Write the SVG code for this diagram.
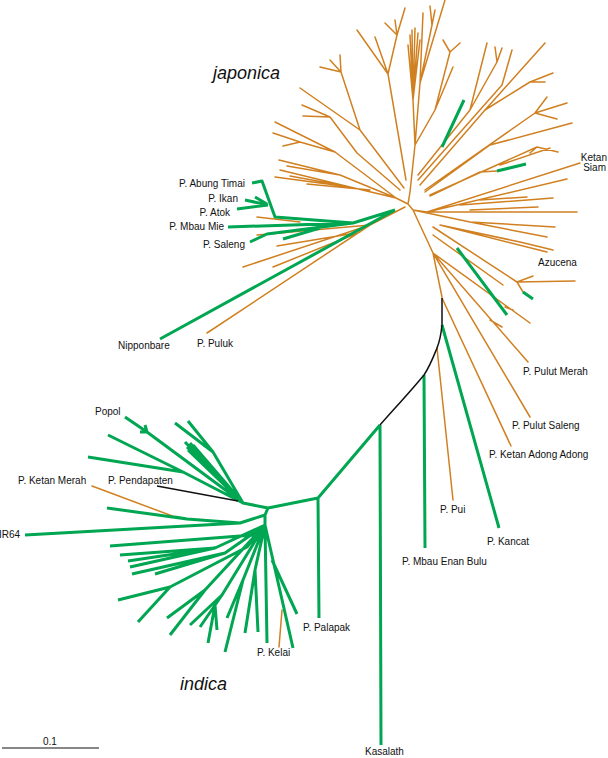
<svg xmlns="http://www.w3.org/2000/svg" width="608" height="758" viewBox="0 0 608 758">
<style>
.o{fill:none;stroke:#D08020;stroke-width:1.5;stroke-linecap:round;stroke-linejoin:round}
.g{fill:none;stroke:#00A651;stroke-width:3;stroke-linecap:butt;stroke-linejoin:round}
.k{fill:none;stroke:#111;stroke-width:1.5;stroke-linejoin:round}
text{font-family:"Liberation Sans",Arial,sans-serif;font-size:10px;fill:#111}
.cl{font-size:18px;font-style:italic}
</style>
<rect width="608" height="758" fill="#fff"/>
<g id="connectors">
<path class="o" d="M408,204 L396,198 L350,187 L275,177 M350,187 L280,170 M350,187 L290,176 M396,198 L340,175 L279,160 M340,175 L287,166 M370,190 L307,184
M396,198 L335,152 L275,122 M335,152 L300,142 L273,133 M300,142 L283,146
M400,190 L357,153 L330,117 L302,105 M330,117 L303,116
M404,188 L360,130 L341,72 L330,60 M341,72 L340,55 M341,72 L320,67 M360,130 L300,88
M406,180 L388,74 L357,30 M388,74 L375,37 M388,74 L397,35 L385,23 M397,35 L405,8 M397,35 L395,20
M408,204 L410,192 L415,145 L413,100 L410,35 M413,100 L412,30 M413,100 L415,28 M413,100 L418,33 M413,100 L420,40 M413,100 L417,45 M413,100 L408,45
M415,145 L420,83 L445,0 M420,83 L432,25 L430,6 M432,25 L435,10 M420,83 L423,13
M415,145 L435,110 L450,52 L443,40 M450,52 L460,43 M435,110 L453,67
M418,175 L470,110 L487,43 M470,110 L497,62 L495,47 M497,62 L502,48
M418,180 L502,85 L512,50
M420,185 L485,110 L545,43 M485,110 L530,82 L553,73 M530,82 L545,82
M425,190 L535,113 L547,97 M535,113 L567,103 M535,113 L557,119
M425,192 L490,145 L572,123
M430,195 L537,147 L558,152 M537,147 L530,153 M500,165 L550,148
M430,196 L480,172 L497,171
M413,210 L427,212 L580,163 M427,212 L567,179 M460,205 L553,198 M480,200 L527,197 M427,212 L577,212 M470,210 L538,207
M413,210 L470,222 L555,227 M470,222 L547,237
M440,225 L520,242 L553,250 M440,225 L547,252
M433,227 L517,282 L575,281 M517,282 L533,276 M517,282 L523,292
M433,235 L503,285
M433,253 L530,323 M505,307 L513,310
M433,253 L528,362 M490,320 L502,327
M433,253 L530,417
M408,204 L413,210 L433,253 L442,297
M442,298 L511,446
M437,348 L453,500
M405,207 L370,225 L207,333
M370,225 L243,267 M360,232 L273,267 M350,234 L277,246 M370,225 L257,235 M300,222 L257,217
M175,517 L92,486
M282,610 L279,647
"/>
<path class="g" d="M442,147 L464,100 M497,171 L526,164 M457,248 L507,315 M523,292 L533,299
M395,210 L160,339
M395,210 L353,223 L228,227
M353,223 L275,217 L262,181 L252,183
M268,205 L237,209 M268,205 L245,200 M267,204 L255,197
M353,223 L267,234 L250,242 M320,228 L283,239
M380,425 L318,498 L268,508 M380,425 L381,745 M424,375 L425,548 M442,325 L499,528 M318,498 L319,618
M268,508 L243,503 L147,432 L125,417 M147,432 L140,432 M147,432 L145,425
M243,503 L183,472 L108,435 M183,472 L88,457
M243,503 L213,452 L175,423 M213,452 L188,421
M243,503 L185,442 M243,503 L190,443 M243,503 L187,447 M243,503 L193,445 M243,503 L188,450 M243,503 L198,452
M268,508 L265,515 L240,523 L25,535 M240,523 L187,519 L107,508 M187,519 L175,517
M265,515 L265,525 L253,535 L110,546
M265,525 L215,548 L120,555 M215,548 L128,561 M215,548 L130,567
M265,525 L225,553 L132,574 M225,553 L155,574
M265,525 L247,547 L170,587 L118,600 M170,587 L138,622
M265,525 L205,590 L167,618 M205,590 L170,635
M265,525 L222,595 L190,625 M222,595 L200,627 M215,605 L208,643 M215,605 L217,630
M265,525 L243,580 L227,618 M243,580 L225,652
M265,525 L255,570 L245,633 M255,570 L258,632
M265,525 L267,643
M265,525 L293,648 M272,560 L297,614
"/>
<path class="k" d="M442,298 L442,325 C441,335 439,343 437,348 C433,358 430,366 424,375 C410,392 395,408 380,425 M157,486 L238,501"/>
</g>
<g id="label-japonica"><text class="cl" x="213" y="79">japonica</text></g>
<g id="label-indica"><text class="cl" x="180" y="690">indica</text></g>
<g id="n-abung"><text x="245" y="187" text-anchor="end">P. Abung Timai</text></g>
<g id="n-ikan"><text x="238" y="202" text-anchor="end">P. Ikan</text></g>
<g id="n-atok"><text x="230" y="216" text-anchor="end">P. Atok</text></g>
<g id="n-mbaumie"><text x="224" y="230" text-anchor="end">P. Mbau Mie</text></g>
<g id="n-saleng"><text x="245" y="248" text-anchor="end">P. Saleng</text></g>
<g id="n-nipponbare"><text x="118" y="349">Nipponbare</text></g>
<g id="n-puluk"><text x="197" y="347">P. Puluk</text></g>
<g id="n-ketansiam"><text x="607" y="161" text-anchor="end">Ketan</text><text x="606" y="171" text-anchor="end">Siam</text></g>
<g id="n-azucena"><text x="538" y="266">Azucena</text></g>
<g id="n-pulutmerah"><text x="523" y="375">P. Pulut Merah</text></g>
<g id="n-pulutsaleng"><text x="512" y="429">P. Pulut Saleng</text></g>
<g id="n-ketanadong"><text x="489" y="458">P. Ketan Adong Adong</text></g>
<g id="n-pui"><text x="440" y="513">P. Pui</text></g>
<g id="n-kancat"><text x="487" y="545">P. Kancat</text></g>
<g id="n-mbauenan"><text x="402" y="565">P. Mbau Enan Bulu</text></g>
<g id="n-palapak"><text x="303" y="631">P. Palapak</text></g>
<g id="n-kelai"><text x="257" y="656">P. Kelai</text></g>
<g id="n-kasalath"><text x="365" y="755">Kasalath</text></g>
<g id="n-popol"><text x="95" y="415">Popol</text></g>
<g id="n-ketanmerah"><text x="18" y="484">P. Ketan Merah</text></g>
<g id="n-pendapaten"><text x="108" y="484">P. Pendapaten</text></g>
<g id="n-ir64"><text x="-1" y="538">IR64</text></g>
<g id="scalebar"><line x1="2" y1="748" x2="99" y2="748" stroke="#111" stroke-width="1.2"/><text x="43" y="745">0.1</text></g>
</svg>
